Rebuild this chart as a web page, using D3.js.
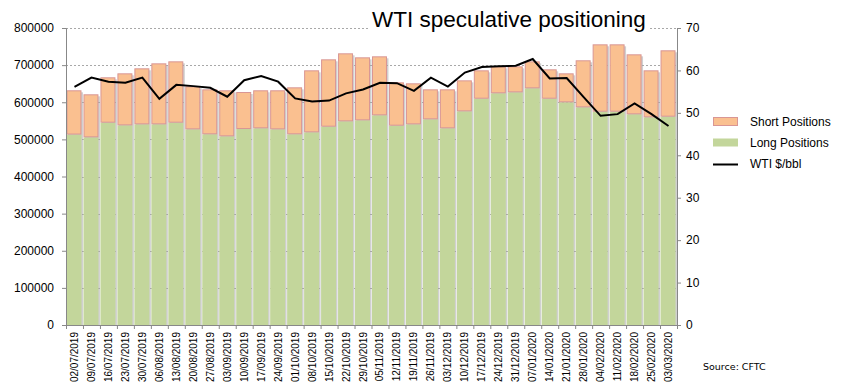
<!DOCTYPE html>
<html><head><meta charset="utf-8">
<script src="https://cdn.jsdelivr.net/npm/d3@7"></script>
<style>body{margin:0;background:#fff;}svg{display:block;font-family:"Liberation Sans",Arial,sans-serif;}</style>
</head><body><svg id="c" width="850" height="391"></svg>
<script>
const dates = ["02/07/2019","09/07/2019","16/07/2019","23/07/2019","30/07/2019","06/08/2019","13/08/2019","20/08/2019","27/08/2019","03/09/2019","10/09/2019","17/09/2019","24/09/2019","01/10/2019","08/10/2019","15/10/2019","22/10/2019","29/10/2019","05/11/2019","12/11/2019","19/11/2019","26/11/2019","03/12/2019","10/12/2019","17/12/2019","24/12/2019","31/12/2019","07/01/2020","14/01/2020","21/01/2020","28/01/2020","04/02/2020","11/02/2020","18/02/2020","25/02/2020","03/03/2020"];
const longPos = [513000,505500,545000,537800,540500,540500,545000,527000,513700,508200,527900,529800,527000,513700,519000,534200,548600,551300,564800,536900,540500,554000,529800,575500,609600,624100,626700,637500,609600,599800,586300,574600,574600,567500,559400,561200];
const totalPos = [632200,621400,667200,677900,691400,704800,710200,642900,634800,632200,627600,632200,632200,640200,686000,715600,731800,721000,723700,653600,651000,634800,634800,659000,686000,696700,696700,710200,688700,677900,713000,756000,756000,729100,686000,739900];
const shortPos = totalPos.map((t,i)=>t-longPos[i]);
const wti = [56.1,58.3,57.35,57.1,58.3,53.3,56.6,56.3,55.9,53.8,57.7,58.7,57.35,53.4,52.7,52.9,54.6,55.5,57.1,57.0,55.2,58.3,56.2,59.5,60.8,61.0,61.1,62.7,58.1,58.2,53.7,49.3,49.7,52.2,49.7,46.9];
const leftTicks = [0,100000,200000,300000,400000,500000,600000,700000,800000];
const rightTicks = [0,10,20,30,40,50,60,70];
const legendItems = ["Short Positions","Long Positions","WTI $/bbl"];

const svg = d3.select("#c");
const L=66, R=677, T=28, B=325;
const x = d3.scaleBand().domain(dates).range([L,R]).padding(0);
const y = d3.scaleLinear().domain([0,800000]).range([B,T]);
const y2 = d3.scaleLinear().domain([0,70]).range([B,T]);
const bw = x.bandwidth();

// shadows
svg.append("g").selectAll("rect").data(dates).join("rect")
  .attr("x",(d)=>x(d)+2).attr("y",(d,i)=>y(totalPos[i])+2)
  .attr("width",bw-2).attr("height",(d,i)=>B-y(totalPos[i])-2)
  .attr("fill","#d0d0d0");

// gridlines
svg.append("g").selectAll("line").data(leftTicks.filter(v=>v>0)).join("line")
  .attr("x1",L).attr("x2",R).attr("y1",d=>Math.round(y(d))+0.5).attr("y2",d=>Math.round(y(d))+0.5)
  .attr("stroke","#a8a8a8").attr("stroke-width",1).attr("stroke-dasharray","2,2");

// long bars
svg.append("g").selectAll("rect").data(dates).join("rect")
  .attr("x",d=>x(d)+0.5).attr("y",(d,i)=>y(longPos[i]))
  .attr("width",bw-2).attr("height",(d,i)=>B-y(longPos[i]))
  .attr("fill","#c3d69b");
// short bars
svg.append("g").selectAll("rect").data(dates).join("rect")
  .attr("x",d=>x(d)+1).attr("y",(d,i)=>y(longPos[i]+shortPos[i])+0.5)
  .attr("width",bw-3).attr("height",(d,i)=>y(longPos[i])-y(longPos[i]+shortPos[i])-1)
  .attr("fill","#fac090").attr("stroke","#d99694").attr("stroke-width",1);

// line
const line = d3.line().x((d,i)=>x(dates[i])+bw/2).y(d=>y2(d));
svg.append("path").datum(wti).attr("d",line).attr("fill","none")
  .attr("stroke","#000").attr("stroke-width",2).attr("stroke-linejoin","miter");

// axes
const axL = svg.append("g").attr("transform",`translate(${L},0)`)
  .call(d3.axisLeft(y).tickValues(leftTicks).tickFormat(d3.format("d")).tickSize(4).tickPadding(8));
const axR = svg.append("g").attr("transform",`translate(${R},0)`)
  .call(d3.axisRight(y2).tickValues(rightTicks).tickFormat(d3.format("d")).tickSize(4).tickPadding(5));
const axB = svg.append("g").attr("transform",`translate(0,${B})`)
  .call(d3.axisBottom(x).tickSize(0).tickFormat(d=>d));
[axL,axR].forEach(g=>{
  g.select(".domain").attr("stroke","#888");
  g.selectAll(".tick line").attr("stroke","#888");
  g.selectAll("text").attr("font-size",12).attr("fill","#000").attr("font-family","'Liberation Sans',Arial,sans-serif");
});
axB.select(".domain").attr("stroke","#888");
axB.selectAll("text").attr("font-size",10).attr("fill","#000")
  .attr("font-family","'Liberation Sans',Arial,sans-serif")
  .attr("transform","rotate(-90)").attr("text-anchor","end")
  .attr("x",-7).attr("y",0).attr("dy","0.35em");
// bottom band ticks
svg.append("g").selectAll("line").data(dates.concat(["__end"])).join("line")
  .attr("x1",(d,i)=>L+i*bw+0.5).attr("x2",(d,i)=>L+i*bw+0.5)
  .attr("y1",B).attr("y2",B+4).attr("stroke","#888");

// title
svg.append("rect").attr("x",368).attr("y",6).attr("width",281).attr("height",26).attr("fill","#fff");
svg.append("text").attr("x",372).attr("y",27).attr("font-size",22.5).attr("fill","#000")
  .text("WTI speculative positioning");

// legend
const lg = svg.append("g");
const ly=[121.5,142.5,163.5];
lg.append("rect").attr("x",713.5).attr("y",ly[0]-4).attr("width",24).attr("height",8)
  .attr("fill","#fac090").attr("stroke","#d99694");
lg.append("rect").attr("x",713).attr("y",ly[1]-4).attr("width",25).attr("height",8).attr("fill","#c3d69b");
lg.append("line").attr("x1",713).attr("x2",738).attr("y1",ly[2]+1).attr("y2",ly[2]+1).attr("stroke","#000").attr("stroke-width",2);
lg.selectAll("text").data(legendItems).join("text")
  .attr("x",750).attr("y",(d,i)=>ly[i]).attr("dy","0.35em").attr("font-size",12).attr("fill","#000").text(d=>d);

svg.append("text").attr("x",703).attr("y",370).attr("fill","#000")
  .attr("font-family","'DejaVu Sans',sans-serif").attr("font-size",9.5).text("Source: CFTC");
</script></body></html>
